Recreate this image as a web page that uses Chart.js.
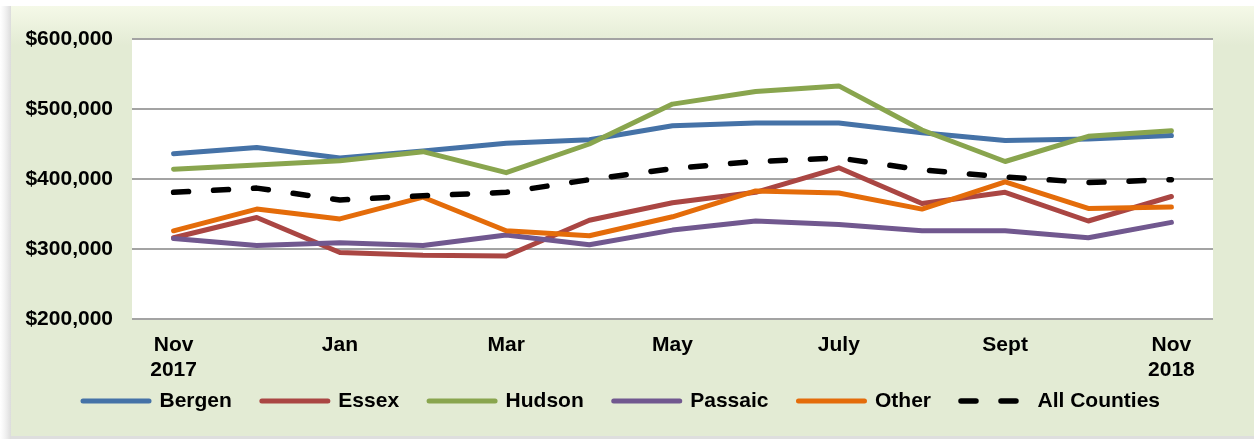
<!DOCTYPE html>
<html>
<head>
<meta charset="utf-8">
<script src="https://cdn.jsdelivr.net/npm/chart.js@4/dist/chart.umd.min.js"></script>
<style>
  html, body { margin: 0; padding: 0; background: #fff; }
  #wrap { width: 1254px; height: 439px; }
</style>
</head>
<body>
<div id="wrap"><canvas id="chart" width="1254" height="439"></canvas></div>
<script>
const months = ["Nov 2017", "Dec", "Jan", "Feb", "Mar", "Apr", "May", "June", "July", "Aug", "Sept", "Oct", "Nov 2018"];

const bergen = [436000, 445000, 430000, 440000, 451000, 456000, 476000, 480000, 480000, 466000, 455000, 457000, 462000];
const essex = [316000, 345000, 295000, 291000, 290000, 341000, 366000, 381000, 416000, 365000, 381000, 340000, 375000];
const hudson = [414000, 420000, 426000, 439000, 409000, 450000, 507000, 525000, 533000, 470000, 425000, 461000, 469000];
const passaic = [315000, 305000, 309000, 305000, 320000, 306000, 327000, 340000, 335000, 326000, 326000, 316000, 338000];
const other = [326000, 357000, 343000, 374000, 326000, 319000, 346000, 383000, 380000, 357000, 396000, 358000, 360000];
const allCounties = [381000, 387000, 370000, 376000, 381000, 399000, 415000, 425000, 430000, 413000, 403000, 395000, 399000];

const yTicks = [200000, 300000, 400000, 500000, 600000];

const FONT = { family: "'Liberation Sans', Arial, sans-serif", size: 21, weight: "bold", lineHeight: 1.15 };

// green panel behind everything, white plot area on top of it
const panelBackground = {
  id: "panelBackground",
  afterLayout(chart) {
    // let the two-line month labels draw below the reserved axis height
    const x = chart.scales.x;
    x.bottom = x.top + 66;
  },
  beforeDraw(chart) {
    const { ctx, width, height, chartArea } = chart;
    ctx.save();
    ctx.fillStyle = "#ffffff";
    ctx.fillRect(0, 0, width, height);

    const shadow = ctx.createLinearGradient(0, 0, 12, 0);
    shadow.addColorStop(0, "rgba(230,230,230,0)");
    shadow.addColorStop(1, "rgba(215,215,215,1)");
    ctx.fillStyle = shadow;
    ctx.fillRect(0, 6, 12, height - 6);

    ctx.fillStyle = "#dedede";
    ctx.fillRect(11, height - 3, width - 11, 3);

    const panel = ctx.createLinearGradient(0, 6, 0, 45);
    panel.addColorStop(0, "#f5f9e8");
    panel.addColorStop(1, "#e3ebd4");
    ctx.fillStyle = panel;
    ctx.fillRect(11, 6, width - 11, height - 9);

    ctx.fillStyle = "#ffffff";
    ctx.fillRect(chartArea.left, chartArea.top, chartArea.right - chartArea.left, chartArea.bottom - chartArea.top);
    ctx.restore();
  }
};

function series(label, data, color, order, extra) {
  return Object.assign({
    label,
    data,
    borderColor: color,
    backgroundColor: color,
    borderWidth: 5,
    borderCapStyle: "round",
    borderJoinStyle: "round",
    pointRadius: 0,
    pointHoverRadius: 0,
    tension: 0,
    fill: false,
    order
  }, extra || {});
}

new Chart(document.getElementById("chart").getContext("2d"), {
  type: "line",
  data: {
    labels: months,
    datasets: [
      series("Bergen", bergen, "#4572a7", 6),
      series("Essex", essex, "#aa4643", 5),
      series("Hudson", hudson, "#89a54e", 4),
      series("Passaic", passaic, "#71588f", 3),
      series("Other", other, "#e46c0a", 2),
      series("All Counties", allCounties, "#000000", 1, { borderDash: [15, 25], borderWidth: 5.5 })
    ]
  },
  plugins: [panelBackground],
  options: {
    responsive: false,
    animation: false,
    layout: { padding: { left: 0, right: 11, top: 39, bottom: 17.5 } },
    scales: {
      x: {
        type: "category",
        offset: true,
        grid: { display: false, drawTicks: false },
        border: { display: false },
        ticks: {
          autoSkip: false,
          maxRotation: 0,
          padding: 14.5,
          color: "#000",
          font: FONT,
          callback(value, index) {
            return index % 2 ? "" : months[index].split(" ");
          }
        },
        afterFit(scale) { scale.height = 41.5; }
      },
      y: {
        min: yTicks[0],
        max: yTicks[yTicks.length - 1],
        grid: { color: "#a3a3a3", lineWidth: 2, drawTicks: false },
        border: { display: false },
        afterBuildTicks(scale) { scale.ticks = yTicks.map((v) => ({ value: v })); },
        ticks: {
          padding: 19,
          color: "#000",
          font: FONT,
          callback: (v) => "$" + v.toLocaleString("en-US")
        },
        afterFit(scale) { scale.width = 132; }
      },
      // empty right-hand axis, only reserves the margin right of the plot
      yRight: {
        position: "right",
        display: true,
        grid: { display: false, drawTicks: false },
        border: { display: false },
        ticks: { display: false },
        afterFit(scale) { scale.width = 30; }
      }
    },
    plugins: {
      legend: {
        position: "bottom",
        labels: {
          usePointStyle: true,
          pointStyle: "line",
          pointStyleWidth: 66,
          padding: 30,
          color: "#000",
          font: FONT,
          sort: (a, b) => a.datasetIndex - b.datasetIndex,
          generateLabels(chart) {
            const items = Chart.defaults.plugins.legend.labels.generateLabels(chart);
            items.forEach((item) => {
              const ds = chart.data.datasets[item.datasetIndex];
              item.lineDash = ds.borderDash || [];
              item.lineCap = "round";
              item.lineWidth = ds.borderWidth;
              item.strokeStyle = ds.borderColor;
            });
            return items;
          }
        }
      },
      tooltip: { enabled: false }
    }
  }
});
</script>
</body>
</html>
